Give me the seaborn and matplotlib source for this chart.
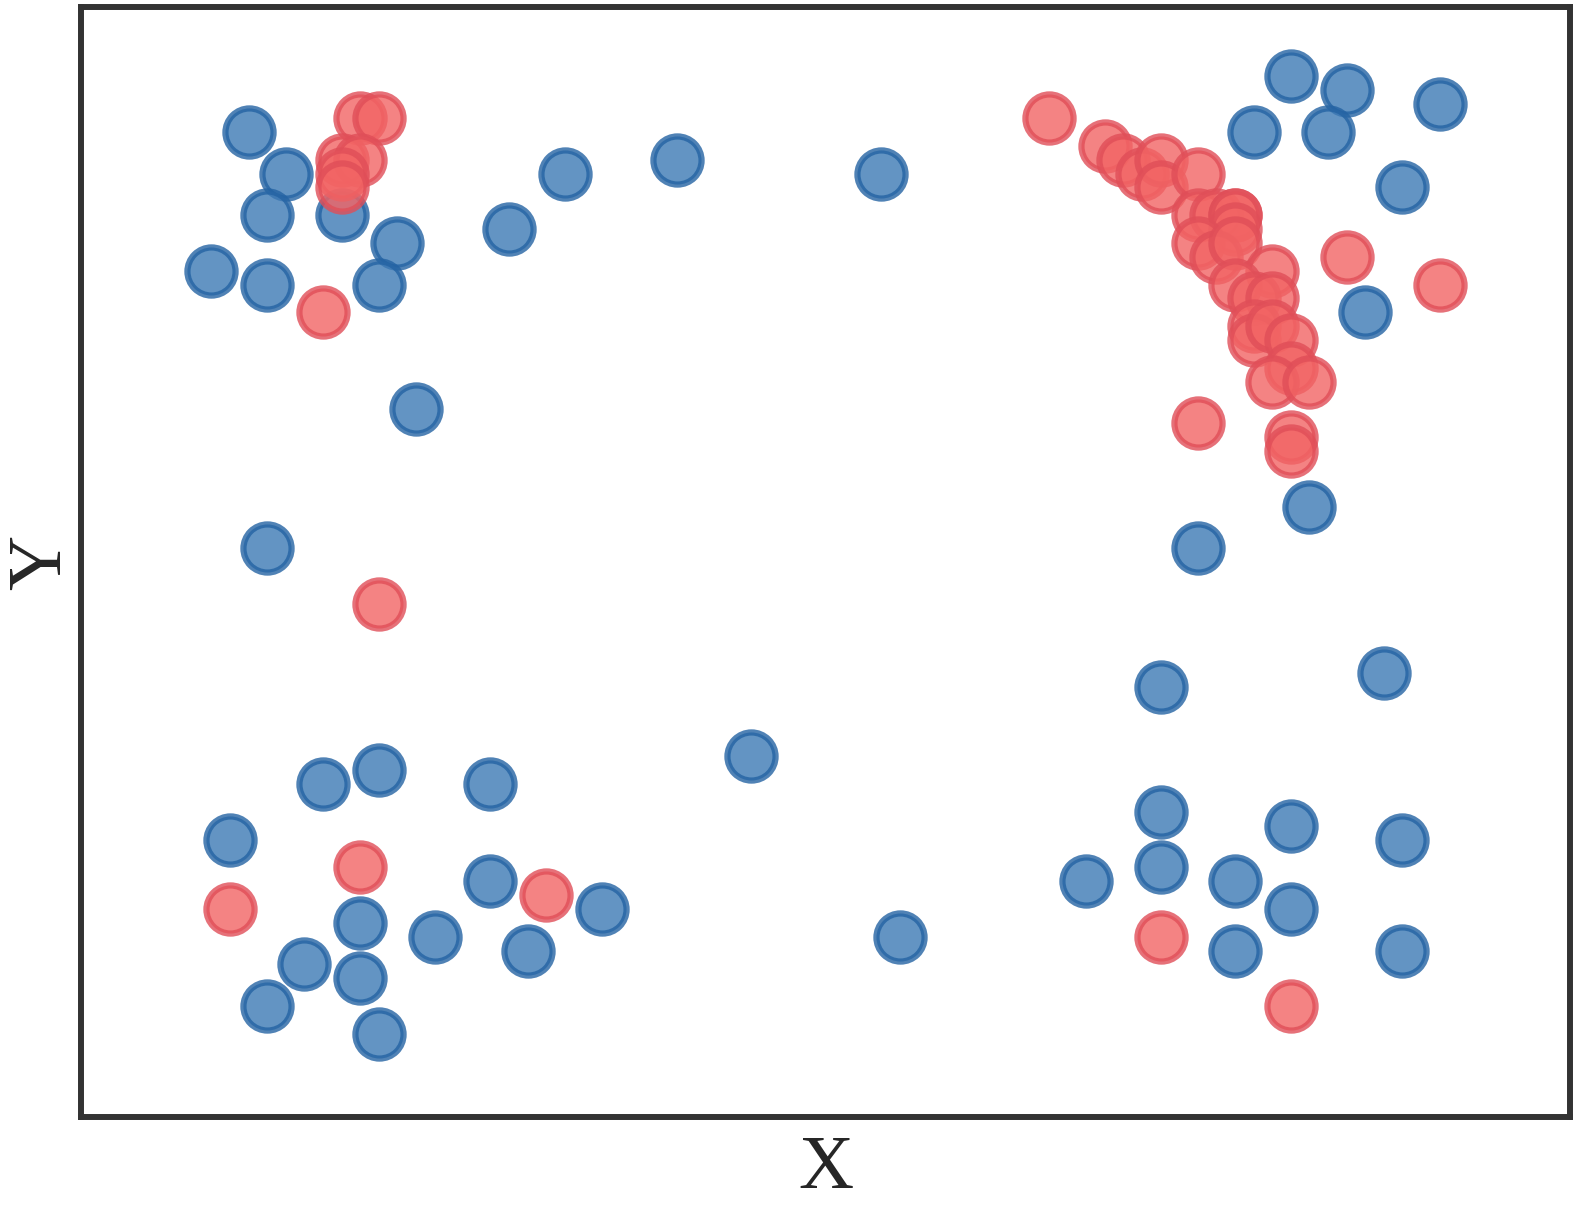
import pandas as pd
import seaborn as sns
from matplotlib import pyplot as plt

# blue class points (x, y)
blue_x = [9, 11, 10, 14, 17, 7, 10, 16, 18, 10, 23, 26, 32, 43,
          65, 68, 73, 63, 67, 71, 69, 66, 60,
          70, 58, 58, 65, 71, 54, 58, 62, 65, 62, 71, 36, 44,
          13, 16, 22, 8, 22, 28, 15, 19, 24, 12, 15, 10, 16]
blue_y = [71, 68, 65, 65, 63, 61, 60, 60, 51, 41, 64, 68, 69, 68,
          75, 74, 73, 71, 71, 67, 58, 44, 41,
          32, 31, 22, 21, 20, 17, 18, 17, 15, 12, 12, 26, 13,
          24, 25, 24, 20, 17, 15, 14, 13, 12, 11, 10, 8, 6]

# red class points (x, y)
red_x = [8, 15, 25, 58, 65, 16, 13,
         15, 16, 14, 15, 14, 14,
         52, 55, 56, 57, 58, 58, 60, 60, 61, 62, 62, 62, 60, 61, 62,
         64, 62, 63, 64, 63, 63, 64, 65, 65, 64, 66, 60, 65, 65, 68, 73]
red_y = [15, 18, 16, 13, 8, 37, 58,
         72, 72, 69, 69, 68, 67,
         72, 70, 69, 68, 69, 67, 68, 65, 65, 65, 65, 64, 63, 62, 63,
         61, 60, 59, 59, 57, 56, 57, 56, 54, 53, 53, 50, 49, 48, 62, 60]

blue = pd.DataFrame({"x": blue_x, "y": blue_y})
red = pd.DataFrame({"x": red_x, "y": red_y})

sns.set_style("white")
plt.rcParams["font.family"] = ["Liberation Serif", "DejaVu Serif"]

fig = plt.figure(figsize=(15.78, 12.21), dpi=100)
ax = fig.add_axes([81 / 1578, 104 / 1221, 1489 / 1578, 1110 / 1221])

sns.scatterplot(data=blue, x="x", y="y", ax=ax, s=1200, color="#3c79b4",
                edgecolor="#2463a3", linewidth=4.5, alpha=0.8, zorder=2)
sns.scatterplot(data=red, x="x", y="y", ax=ax, s=1200, color="#f26464",
                edgecolor="#e04e58", linewidth=4.5, alpha=0.8, zorder=3)

ax.set_xlim(0, 80)
ax.set_ylim(0, 80)
ax.set_xticks([])
ax.set_yticks([])
ax.set_xlabel("X", fontsize=55, color="#262626")
ax.set_ylabel("Y", fontsize=55, color="#262626")
ax.xaxis.label.set(va="center", ha="center")
ax.yaxis.label.set(va="center", ha="center", rotation_mode="default")
ax.xaxis.set_label_coords(0.5, -0.0477)
ax.yaxis.set_label_coords(-0.0262, 0.5)

for sp in ax.spines.values():
    sp.set_visible(True)
    sp.set_linewidth(4.3)
    sp.set_color("#333333")

fig.savefig("out.png", dpi=100)
